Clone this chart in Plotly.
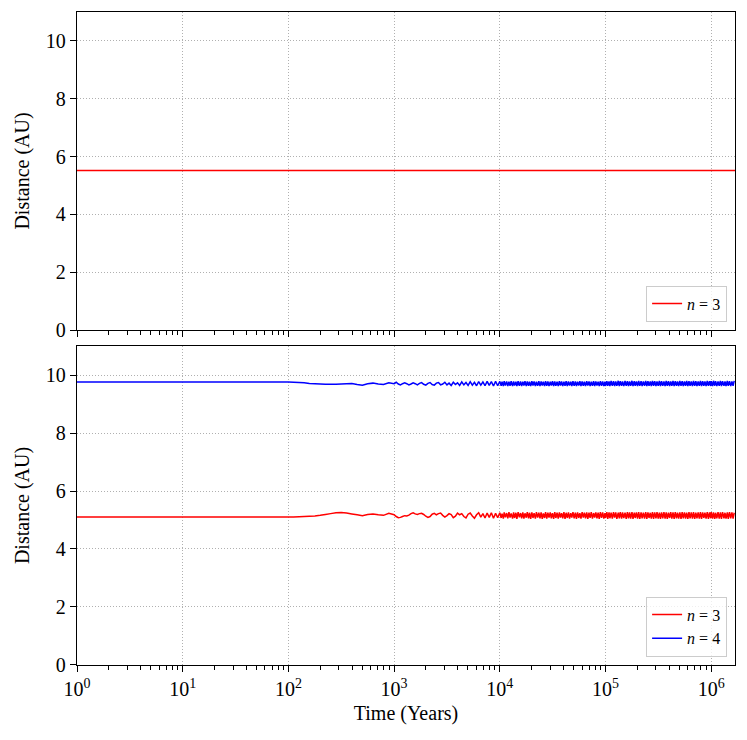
import plotly.graph_objects as go
from plotly.subplots import make_subplots

# top panel: n = 3 system
t_top = [1, 1.68e6]
d_top_n3 = [5.52, 5.52]

# bottom panel: n = 4 system, sample times (years)
t_early = [1, 10, 50, 100, 112, 126, 141, 158, 178, 200, 224, 251, 282, 316,
           355, 398, 447, 501, 562, 631, 708, 794, 891, 1000]
t_dec3 = [1047, 1096, 1148, 1202, 1259, 1318, 1380, 1445, 1514, 1585, 1660,
          1738, 1820, 1905, 1995, 2089, 2188, 2291, 2399, 2512, 2630, 2754,
          2884, 3020, 3162, 3311, 3467, 3631, 3802, 3981, 4169, 4365, 4571,
          4786, 5012, 5248, 5495, 5754, 6026, 6310, 6607, 6918, 7244, 7586,
          7943, 8318, 8710, 9120, 9550]
# mantissas used for the densely sampled decades
mant = [1.00, 1.03, 1.05, 1.08, 1.10, 1.13, 1.16, 1.19, 1.22, 1.25, 1.28, 1.32,
        1.35, 1.38, 1.42, 1.45, 1.49, 1.53, 1.57, 1.61, 1.65, 1.69, 1.73, 1.78,
        1.82, 1.87, 1.91, 1.96, 2.01, 2.06, 2.11, 2.17, 2.22, 2.28, 2.34, 2.40,
        2.46, 2.52, 2.58, 2.65, 2.71, 2.78, 2.85, 2.92, 3.00, 3.07, 3.15, 3.23,
        3.31, 3.39, 3.48, 3.57, 3.66, 3.75, 3.84, 3.94, 4.04, 4.14, 4.24, 4.35,
        4.46, 4.57, 4.69, 4.80, 4.92, 5.05, 5.18, 5.31, 5.44, 5.58, 5.72, 5.86,
        6.01, 6.16, 6.31, 6.47, 6.64, 6.80, 6.98, 7.15, 7.33, 7.52, 7.71, 7.90,
        8.10, 8.30, 8.51, 8.72, 8.94, 9.17, 9.40, 9.64, 9.88]
mant_last = mant[:21]

t_dense = [m * 1e4 for m in mant] + [m * 1e5 for m in mant] + [m * 1e6 for m in mant_last]
t_bot = t_early + t_dec3 + t_dense

r_early = [5.10, 5.10, 5.10, 5.10, 5.10, 5.11, 5.12, 5.13, 5.14, 5.16, 5.19,
           5.22, 5.25, 5.26, 5.24, 5.21, 5.18, 5.15, 5.19, 5.21, 5.18, 5.16,
           5.23, 5.18]
r_dec3 = [5.12, 5.08, 5.09, 5.12, 5.15, 5.14, 5.17, 5.22, 5.25, 5.21, 5.19,
          5.22, 5.23, 5.19, 5.13, 5.09, 5.12, 5.20, 5.23, 5.18, 5.22, 5.24,
          5.16, 5.10, 5.15, 5.22, 5.19, 5.08, 5.13, 5.24, 5.18, 5.22, 5.12,
          5.07, 5.20, 5.24, 5.14, 5.06, 5.18, 5.25, 5.10, 5.22, 5.07, 5.24,
          5.09, 5.25, 5.06, 5.23, 5.08]
r_dense = [
    5.25, 5.07, 5.22, 5.05, 5.26, 5.09, 5.24, 5.06, 5.27, 5.08,
    5.23, 5.05, 5.26, 5.07, 5.25, 5.04, 5.27, 5.09, 5.24, 5.06,
    5.26, 5.05, 5.23, 5.08, 5.27, 5.06, 5.25, 5.04, 5.26, 5.07,
    5.24, 5.05, 5.27, 5.08, 5.25, 5.06, 5.26, 5.04, 5.23, 5.07,
    5.27, 5.05, 5.25, 5.08, 5.26, 5.06, 5.24, 5.04, 5.27, 5.07,
    5.25, 5.05, 5.26, 5.08, 5.24, 5.06, 5.27, 5.04, 5.25, 5.07,
    5.26, 5.05, 5.24, 5.08, 5.27, 5.06, 5.25, 5.04, 5.26, 5.07,
    5.24, 5.05, 5.27, 5.08, 5.25, 5.06, 5.26, 5.04, 5.25, 5.07,
    5.27, 5.05, 5.24, 5.08, 5.26, 5.06, 5.25, 5.04, 5.27, 5.07,
    5.26, 5.05, 5.24,
    5.07, 5.27, 5.04, 5.26, 5.06, 5.25, 5.05, 5.27, 5.08, 5.26,
    5.04, 5.25, 5.06, 5.27, 5.05, 5.26, 5.07, 5.25, 5.04, 5.27,
    5.06, 5.26, 5.05, 5.27, 5.04, 5.25, 5.07, 5.26, 5.05, 5.27,
    5.04, 5.26, 5.06, 5.25, 5.05, 5.27, 5.04, 5.26, 5.07, 5.25,
    5.05, 5.27, 5.04, 5.26, 5.06, 5.27, 5.05, 5.25, 5.04, 5.26,
    5.06, 5.27, 5.05, 5.26, 5.04, 5.25, 5.07, 5.27, 5.05, 5.26,
    5.04, 5.27, 5.06, 5.25, 5.05, 5.26, 5.04, 5.27, 5.06, 5.26,
    5.05, 5.25, 5.04, 5.27, 5.06, 5.26, 5.05, 5.27, 5.04, 5.25,
    5.06, 5.26, 5.05, 5.27, 5.04, 5.26, 5.07, 5.25, 5.05, 5.27,
    5.04, 5.26, 5.06,
    5.27, 5.05, 5.26, 5.04, 5.25, 5.06, 5.27, 5.05, 5.26, 5.04,
    5.27, 5.06, 5.25, 5.05, 5.26, 5.04, 5.27, 5.06, 5.26, 5.05,
    5.25]

b_early = [9.76, 9.76, 9.76, 9.76, 9.75, 9.74, 9.73, 9.71, 9.70, 9.69, 9.68,
           9.68, 9.68, 9.69, 9.70, 9.71, 9.67, 9.65, 9.70, 9.72, 9.69, 9.67,
           9.73, 9.70]
b_dec3 = [9.75, 9.69, 9.66, 9.70, 9.73, 9.70, 9.66, 9.69, 9.73, 9.70, 9.66,
          9.71, 9.74, 9.68, 9.65, 9.71, 9.74, 9.67, 9.65, 9.72, 9.74, 9.66,
          9.69, 9.75, 9.66, 9.72, 9.64, 9.75, 9.67, 9.73, 9.64, 9.76, 9.66,
          9.74, 9.64, 9.77, 9.65, 9.75, 9.63, 9.77, 9.65, 9.76, 9.63, 9.78,
          9.64, 9.77, 9.62, 9.78, 9.63]
b_dense = [
    9.78, 9.63, 9.77, 9.62, 9.79, 9.64, 9.78, 9.62, 9.77, 9.63,
    9.79, 9.62, 9.78, 9.64, 9.77, 9.62, 9.79, 9.63, 9.78, 9.62,
    9.77, 9.64, 9.79, 9.62, 9.78, 9.63, 9.77, 9.62, 9.79, 9.64,
    9.78, 9.62, 9.77, 9.63, 9.79, 9.62, 9.78, 9.64, 9.77, 9.62,
    9.79, 9.63, 9.78, 9.62, 9.77, 9.64, 9.79, 9.62, 9.78, 9.63,
    9.77, 9.62, 9.79, 9.64, 9.78, 9.62, 9.77, 9.63, 9.79, 9.62,
    9.78, 9.64, 9.77, 9.62, 9.79, 9.63, 9.78, 9.62, 9.77, 9.64,
    9.79, 9.62, 9.78, 9.63, 9.77, 9.62, 9.79, 9.64, 9.78, 9.62,
    9.77, 9.63, 9.79, 9.62, 9.78, 9.64, 9.77, 9.62, 9.79, 9.63,
    9.78, 9.62, 9.77,
    9.62, 9.79, 9.63, 9.78, 9.62, 9.80, 9.63, 9.79, 9.62, 9.78,
    9.63, 9.80, 9.62, 9.79, 9.63, 9.78, 9.62, 9.80, 9.63, 9.79,
    9.62, 9.78, 9.63, 9.80, 9.62, 9.79, 9.63, 9.78, 9.62, 9.80,
    9.63, 9.79, 9.62, 9.78, 9.63, 9.80, 9.62, 9.79, 9.63, 9.78,
    9.62, 9.80, 9.63, 9.79, 9.62, 9.78, 9.63, 9.80, 9.62, 9.79,
    9.63, 9.78, 9.62, 9.80, 9.63, 9.79, 9.62, 9.78, 9.63, 9.80,
    9.62, 9.79, 9.63, 9.78, 9.62, 9.80, 9.63, 9.79, 9.62, 9.78,
    9.63, 9.80, 9.62, 9.79, 9.63, 9.78, 9.62, 9.80, 9.63, 9.79,
    9.62, 9.78, 9.63, 9.80, 9.62, 9.79, 9.63, 9.78, 9.62, 9.80,
    9.63, 9.79, 9.62,
    9.79, 9.62, 9.80, 9.63, 9.79, 9.62, 9.78, 9.63, 9.80, 9.62,
    9.79, 9.63, 9.78, 9.62, 9.80, 9.63, 9.79, 9.62, 9.78, 9.63,
    9.80]

d_bot_n3 = r_early + r_dec3 + r_dense
d_bot_n4 = b_early + b_dec3 + b_dense

xtick_vals = [1, 10, 100, 1000, 1e4, 1e5, 1e6]
xtick_text = ["10<sup>%d</sup>" % k for k in range(7)]
ytick_vals = [0, 2, 4, 6, 8, 10]

FONT = "Liberation Serif"

fig = make_subplots(rows=2, cols=1, shared_xaxes=True)

fig.add_trace(go.Scatter(x=t_top, y=d_top_n3, mode="lines", name="<i>n</i> = 3",
                         line=dict(color="#ff0000", width=1.5, simplify=False),
                         legend="legend"),
              row=1, col=1)
fig.add_trace(go.Scatter(x=t_bot, y=d_bot_n3, mode="lines", name="<i>n</i> = 3",
                         line=dict(color="#ff0000", width=1.5, simplify=False),
                         legend="legend2"),
              row=2, col=1)
fig.add_trace(go.Scatter(x=t_bot, y=d_bot_n4, mode="lines", name="<i>n</i> = 4",
                         line=dict(color="#0000ff", width=1.5, simplify=False),
                         legend="legend2"),
              row=2, col=1)

minor_vals = [m * 10 ** k for k in range(7) for m in range(2, 10)]

xax = dict(type="log", range=[0, 6.225], tickmode="array", tickvals=xtick_vals,
           showline=True, mirror=True, linecolor="black", linewidth=1.3,
           ticks="outside", ticklen=6, tickwidth=1.3, tickcolor="black",
           showgrid=True, gridcolor="#b0b0b0", griddash="1px,2px", gridwidth=1,
           zeroline=False, automargin=False,
           minor=dict(tickmode="array", tickvals=minor_vals, ticks="outside",
                      ticklen=3.5, tickwidth=1, tickcolor="black", showgrid=False))
yax = dict(range=[0, 11], tickmode="array", tickvals=ytick_vals,
           showline=True, mirror=True, linecolor="black", linewidth=1.3,
           ticks="outside", ticklen=6, tickwidth=1.3, tickcolor="black",
           showgrid=True, gridcolor="#b0b0b0", griddash="1px,2px", gridwidth=1,
           zeroline=False, automargin=False,
           title=dict(text="Distance (AU)", standoff=10, font=dict(size=20)))

fig.update_xaxes(**xax)
fig.update_xaxes(showticklabels=False, row=1, col=1)
fig.update_xaxes(ticktext=xtick_text, showticklabels=True,
                 title=dict(text="Time (Years)", standoff=6, font=dict(size=20)),
                 row=2, col=1)
fig.update_yaxes(**yax)

legend_style = dict(xanchor="right", yanchor="bottom",
                    bgcolor="rgba(255,255,255,0.8)", bordercolor="#cccccc",
                    borderwidth=1, font=dict(size=16), tracegroupgap=2)

fig.update_layout(
    width=739, height=732,
    margin=dict(l=69, r=12, t=4, b=75),
    paper_bgcolor="white", plot_bgcolor="white",
    font=dict(family=FONT, size=20, color="black"),
    xaxis=dict(domain=[0, 1]),
    yaxis=dict(domain=[0.513, 1.0]),
    yaxis2=dict(domain=[0.0, 0.4885]),
    legend=dict(x=0.988, y=0.526, **legend_style),
    legend2=dict(x=0.988, y=0.013, **legend_style),
    showlegend=True,
)

fig.write_html("out.html")
